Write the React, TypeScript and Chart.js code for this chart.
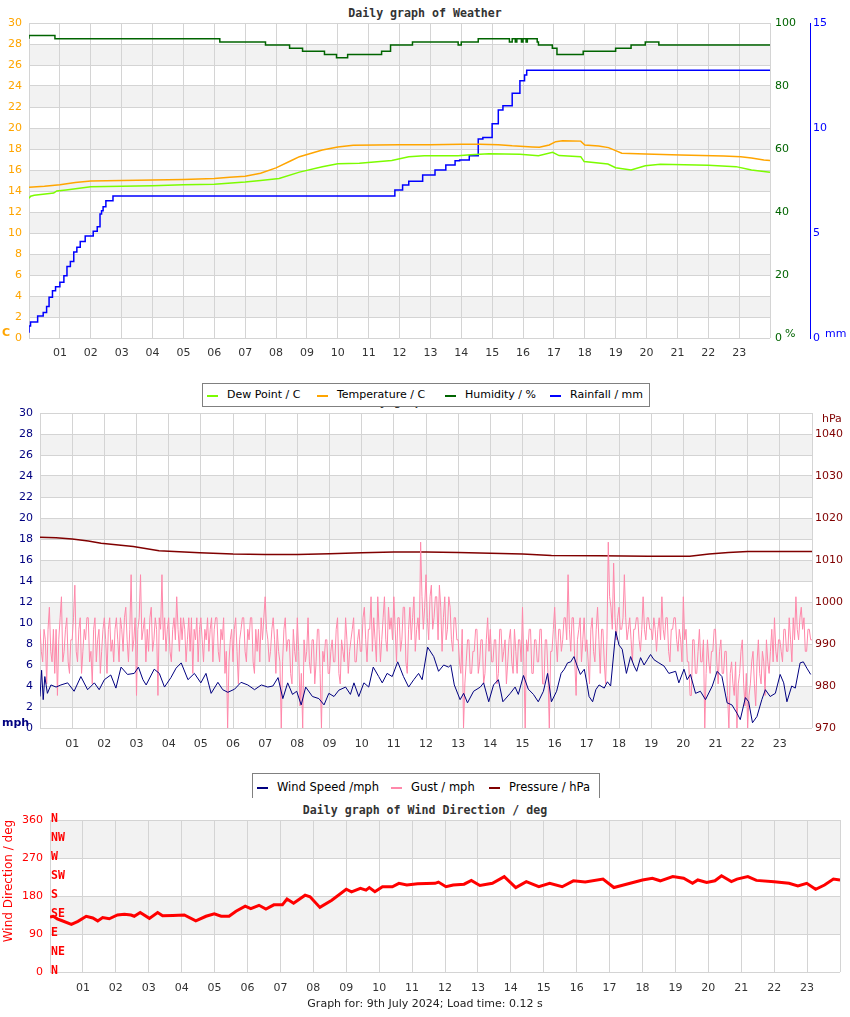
import React, { useEffect, useRef } from 'react';
import { Chart, registerables } from 'chart.js';
Chart.register(...registerables);
Chart.defaults.font.family = '"DejaVu Sans", sans-serif';

const HOUR_LABELS = ['01','02','03','04','05','06','07','08','09','10','11','12','13','14','15','16','17','18','19','20','21','22','23'];

// ---- Weather (top) ----
const tempHours = [0, 0.5, 1, 1.5, 2, 3, 4, 5, 6, 6.5, 7, 7.5, 8, 8.5, 8.76, 9.5, 10, 10.5, 12, 13, 14, 14.6, 15.2, 15.65, 16.3, 16.53, 16.85, 17.06, 17.28, 17.87, 18.0, 18.45, 18.77, 19.0, 19.2, 19.96, 21.1, 22.5, 23.05, 23.4, 23.8, 24];
const tempValues = [14.35, 14.45, 14.6, 14.8, 14.95, 15.0, 15.05, 15.1, 15.2, 15.3, 15.4, 15.7, 16.2, 16.9, 17.27, 17.9, 18.2, 18.35, 18.4, 18.4, 18.45, 18.45, 18.4, 18.3, 18.2, 18.16, 18.38, 18.7, 18.79, 18.75, 18.38, 18.29, 18.13, 17.84, 17.59, 17.52, 17.43, 17.33, 17.27, 17.14, 16.95, 16.9];

const dewHours = [0, 0.05, 0.17, 0.8, 0.9, 1.2, 2, 3, 4, 5, 6, 7, 7.5, 8.1, 8.76, 9.5, 10, 10.7, 11.75, 12.3, 12.8, 13.9, 14.3, 14.9, 15.9, 16.5, 16.96, 17.17, 17.87, 17.98, 18.75, 19.0, 19.5, 19.96, 20.45, 22.0, 22.9, 23.4, 24];
const dewValues = [13.3, 13.5, 13.6, 13.8, 14.0, 14.1, 14.4, 14.45, 14.5, 14.6, 14.65, 14.85, 15.0, 15.2, 15.8, 16.3, 16.6, 16.65, 16.9, 17.27, 17.36, 17.36, 17.45, 17.55, 17.5, 17.35, 17.68, 17.37, 17.27, 16.8, 16.57, 16.22, 16.0, 16.41, 16.54, 16.45, 16.32, 16.0, 15.78];

const humHours = [0, 0.84, 6.18, 7.66, 8.44, 8.86, 9.57, 9.96, 10.32, 11.42, 11.71, 12.42, 13.9, 14.0, 14.55, 15.56, 15.65, 15.75, 15.8, 15.95, 16.0, 16.1, 16.14, 16.46, 16.5, 16.95, 17.1, 17.95, 19.0, 19.5, 19.96, 20.4, 23.4, 24];
const humValues = [95, 96, 95, 94, 93, 92, 91, 90, 89, 90, 91, 93, 94, 93, 94, 95, 94, 95, 94, 95, 94, 95, 94, 95, 94, 93, 92, 90, 91, 92, 93, 94, 93, 93];

const rainHours = [0, 0.05, 0.28, 0.46, 0.57, 0.65, 0.76, 0.86, 1.0, 1.13, 1.23, 1.34, 1.45, 1.55, 1.66, 1.82, 2.08, 2.21, 2.3, 2.35, 2.4, 2.49, 2.72, 11.85, 12.1, 12.3, 12.75, 13.15, 13.5, 13.8, 13.95, 14.26, 14.55, 14.7, 15.0, 15.2, 15.35, 15.65, 15.9, 16.05, 16.12, 16.27, 24];
const rainValues = [0.25, 0.57, 0.76, 1.05, 1.22, 1.5, 1.94, 2.25, 2.44, 2.65, 2.97, 3.4, 3.64, 4.1, 4.32, 4.6, 4.86, 5.08, 5.3, 5.9, 6.06, 6.25, 6.54, 6.76, 7.05, 7.29, 7.46, 7.76, 8.0, 8.24, 8.44, 8.48, 8.68, 9.48, 9.55, 10.2, 10.86, 11.06, 11.65, 12.25, 12.52, 12.75, 12.75];

// ---- Wind / pressure (middle) ----
const windHours = [0.0, 0.05, 0.1, 0.15, 0.23, 0.34, 0.5, 0.65, 0.86, 1.06, 1.27, 1.48, 1.69, 1.84, 2.0, 2.2, 2.36, 2.52, 2.72, 2.93, 3.06, 3.2, 3.3, 3.55, 3.71, 3.87, 4.07, 4.23, 4.39, 4.6, 4.8, 5.0, 5.16, 5.32, 5.53, 5.68, 5.84, 6.05, 6.25, 6.46, 6.67, 6.88, 7.08, 7.24, 7.4, 7.55, 7.7, 7.85, 7.98, 8.12, 8.26, 8.47, 8.67, 8.83, 8.98, 9.14, 9.29, 9.5, 9.65, 9.76, 9.91, 10.07, 10.22, 10.36, 10.53, 10.64, 10.79, 10.95, 11.12, 11.3, 11.46, 11.62, 11.77, 11.88, 12.05, 12.24, 12.39, 12.55, 12.7, 12.77, 12.88, 13.06, 13.17, 13.29, 13.48, 13.69, 13.79, 13.95, 14.1, 14.25, 14.39, 14.62, 14.77, 14.87, 15.03, 15.18, 15.34, 15.49, 15.65, 15.78, 15.9, 16.06, 16.2, 16.3, 16.4, 16.5, 16.6, 16.7, 16.8, 16.92, 17.0, 17.07, 17.18, 17.28, 17.38, 17.54, 17.64, 17.74, 17.9, 18.0, 18.1, 18.23, 18.36, 18.47, 18.55, 18.67, 18.78, 18.88, 18.98, 19.09, 19.24, 19.4, 19.55, 19.76, 19.86, 20.02, 20.12, 20.22, 20.38, 20.53, 20.69, 20.9, 21.05, 21.2, 21.36, 21.51, 21.67, 21.77, 21.93, 22.03, 22.15, 22.29, 22.44, 22.55, 22.7, 22.86, 23.01, 23.12, 23.22, 23.37, 23.48, 23.63, 23.73, 23.84, 23.96];
const windValues = [3.0, 5.5, 2.7, 4.9, 3.3, 4.1, 3.9, 4.1, 4.3, 3.5, 4.9, 3.65, 4.3, 3.65, 4.6, 5.05, 3.8, 5.8, 5.1, 5.2, 5.8, 4.6, 4.1, 5.6, 5.2, 3.9, 4.8, 5.7, 6.2, 4.6, 5.2, 4.3, 5.2, 3.3, 4.35, 3.65, 3.4, 3.7, 4.35, 4.1, 3.65, 4.1, 3.9, 4.0, 4.8, 2.8, 4.3, 3.2, 3.5, 2.2, 3.9, 3.0, 2.8, 2.2, 3.3, 3.0, 3.6, 3.9, 3.2, 4.3, 3.0, 4.3, 3.9, 5.8, 4.9, 4.3, 5.2, 4.9, 6.3, 4.9, 3.9, 4.6, 5.2, 4.6, 7.7, 6.8, 5.4, 6.0, 5.8, 6.0, 4.1, 2.7, 3.3, 2.4, 3.5, 3.9, 4.3, 2.5, 4.1, 4.6, 2.5, 3.3, 3.9, 3.2, 5.0, 3.7, 3.2, 2.5, 3.5, 5.2, 2.5, 3.5, 5.2, 5.6, 6.2, 6.3, 6.8, 5.9, 5.1, 5.6, 4.3, 3.0, 2.5, 3.65, 4.1, 3.8, 4.4, 4.0, 9.2, 7.9, 7.5, 5.2, 6.8, 5.9, 5.4, 6.7, 6.0, 6.5, 7.0, 6.5, 6.2, 5.9, 5.2, 5.4, 4.3, 5.6, 4.6, 5.1, 3.3, 3.5, 2.7, 4.0, 5.4, 4.9, 2.4, 2.2, 1.4, 0.8, 2.9, 2.5, 0.5, 1.1, 2.7, 3.65, 3.0, 3.3, 5.1, 4.3, 2.5, 4.0, 3.8, 6.2, 6.3, 5.7, 5.1];

// gusts, one reading every 2.5 minutes from 00:00 to 24:00 (24 per hour)
const gustValues = [
  9.4, 7.3, 6.3, 9.4, 8.4, 4.2, 9.4, 11.5, 7.3, 6.3, 9.4, 5.2, 9.4, 3.1, 8.4, 10.5, 12.5, 6.3, 7.3, 9.4, 10.5, 6.3, 5.2, 8.4,
  8.4, 10.5, 13.6, 7.3, 6.3, 9.4, 10.5, 5.2, 7.3, 9.4, 8.4, 10.5, 10.5, 6.3, 7.3, 4.2, 9.4, 10.5, 6.3, 8.4, 9.4, 5.2, 7.3, 9.4,
  10.5, 8.4, 5.2, 9.4, 10.5, 7.3, 8.4, 6.3, 9.4, 10.5, 8.4, 6.3, 10.5, 9.4, 7.3, 10.5, 11.5, 8.4, 6.3, 9.4, 14.6, 7.3, 8.4, 10.5,
  3.1, 9.4, 10.5, 14.6, 8.4, 9.4, 10.5, 6.3, 9.4, 7.3, 10.5, 11.5, 7.3, 8.4, 10.5, 9.4, 3.1, 10.5, 9.4, 14.6, 8.4, 10.5, 7.3, 9.4,
  10.5, 7.3, 6.3, 9.4, 10.5, 8.4, 12.5, 9.4, 7.3, 10.5, 8.4, 10.5, 9.4, 6.3, 8.4, 10.5, 7.3, 10.5, 5.2, 9.4, 8.4, 10.5, 6.3, 9.4,
  10.5, 8.4, 6.3, 9.4, 8.4, 10.5, 7.3, 9.4, 10.5, 6.3, 9.4, 10.5, 10.5, 7.3, 6.3, 9.4, 8.4, 10.5, 5.2, 7.3, 0, 6.3, 8.4, 9.4,
  6.3, 9.4, 10.5, 7.3, 4.2, 8.4, 9.4, 10.5, 10.5, 7.3, 6.3, 9.4, 8.4, 10.5, 10.5, 6.3, 5.2, 9.4, 7.3, 9.4, 6.3, 10.5, 8.4, 10.5,
  12.5, 9.4, 8.4, 6.3, 7.3, 9.4, 10.5, 8.4, 5.2, 9.4, 7.3, 6.3, 0, 6.3, 9.4, 10.5, 7.3, 8.4, 8.4, 5.2, 4.2, 9.4, 7.3, 6.3,
  10.5, 7.3, 2.1, 5.2, 0, 8.4, 6.3, 7.3, 10.5, 6.3, 5.2, 8.4, 8.4, 4.2, 6.3, 9.4, 9.4, 5.2, 0, 7.3, 6.3, 8.4, 8.4, 5.2,
  5.2, 7.3, 8.4, 6.3, 6.3, 9.4, 10.5, 5.2, 4.2, 8.4, 7.3, 6.3, 10.5, 8.4, 5.2, 7.3, 8.4, 9.4, 10.5, 6.3, 6.3, 8.4, 9.4, 7.3,
  7.3, 10.5, 11.5, 8.4, 6.3, 9.4, 9.4, 12.5, 7.3, 10.5, 8.4, 6.3, 12.5, 9.4, 6.3, 8.4, 10.5, 12.5, 8.4, 7.3, 11.5, 9.4, 10.5, 8.4,
  12.5, 9.4, 6.3, 10.5, 10.5, 7.3, 8.4, 11.5, 11.5, 6.3, 5.2, 9.4, 11.5, 8.4, 10.5, 12.5, 7.3, 9.4, 10.5, 8.4, 17.7, 12.5, 9.4, 11.5,
  14.6, 10.5, 8.4, 12.5, 13.6, 9.4, 10.5, 12.5, 12.5, 8.4, 13.6, 11.5, 7.3, 10.5, 12.5, 8.4, 9.4, 12.5, 11.5, 8.4, 7.3, 10.5, 10.5, 8.4,
  8.4, 6.3, 5.2, 9.4, 0, 4.2, 6.3, 8.4, 8.4, 5.2, 5.2, 7.3, 7.3, 9.4, 9.4, 5.2, 6.3, 8.4, 8.4, 4.2, 5.2, 8.4, 10.5, 7.3,
  9.4, 6.3, 6.3, 8.4, 8.4, 4.2, 5.2, 9.4, 9.4, 6.3, 7.3, 8.4, 4.2, 6.3, 8.4, 9.4, 6.3, 5.2, 9.4, 7.3, 5.2, 8.4, 8.4, 6.3,
  11.5, 6.3, 0, 8.4, 7.3, 9.4, 9.4, 5.2, 5.2, 8.4, 8.4, 6.3, 6.3, 9.4, 9.4, 4.2, 4.2, 8.4, 8.4, 5.2, 0, 7.3, 7.3, 9.4,
  11.5, 8.4, 6.3, 9.4, 9.4, 7.3, 8.4, 10.5, 10.5, 8.4, 14.6, 9.4, 7.3, 10.5, 10.5, 6.3, 3.1, 8.4, 9.4, 10.5, 6.3, 8.4, 10.5, 7.3,
  8.4, 6.3, 4.2, 9.4, 10.5, 7.3, 6.3, 9.4, 11.5, 8.4, 5.2, 9.4, 9.4, 6.3, 4.2, 8.4, 17.7, 12.5, 11.5, 9.4, 15.7, 10.5, 8.4, 10.5,
  11.5, 9.4, 9.4, 10.5, 14.6, 10.5, 8.4, 9.4, 10.5, 8.4, 6.3, 9.4, 9.4, 10.5, 10.5, 8.4, 7.3, 9.4, 12.5, 9.4, 8.4, 10.5, 10.5, 9.4,
  9.4, 8.4, 10.5, 9.4, 7.3, 9.4, 10.5, 8.4, 12.5, 9.4, 8.4, 10.5, 10.5, 7.3, 6.3, 9.4, 9.4, 10.5, 10.5, 8.4, 7.3, 9.4, 8.4, 6.3,
  12.5, 8.4, 9.4, 6.3, 6.3, 3.1, 3.1, 8.4, 8.4, 5.2, 5.2, 7.3, 9.4, 6.3, 6.3, 8.4, 0, 5.2, 8.4, 6.3, 5.2, 7.3, 7.3, 9.4,
  9.4, 6.3, 4.2, 7.3, 8.4, 5.2, 5.2, 7.3, 7.3, 3.1, 0, 5.2, 6.3, 4.2, 3.1, 6.3, 0, 4.2, 5.2, 7.3, 8.4, 4.2, 2.1, 5.2,
  0, 3.1, 4.2, 6.3, 7.3, 4.2, 2.1, 6.3, 8.4, 5.2, 4.2, 7.3, 6.3, 3.1, 8.4, 6.3, 5.2, 7.3, 9.4, 6.3, 10.5, 7.3, 6.3, 8.4,
  8.4, 7.3, 6.3, 9.4, 9.4, 7.3, 7.3, 10.5, 8.4, 6.3, 10.5, 8.4, 12.5, 9.4, 8.4, 10.5, 11.5, 9.4, 10.5, 7.3, 7.3, 9.4, 9.4, 8.4,
  8.4,
];
const GUST_PER_HOUR = 24;

const pressHours = [0, 0.5, 1, 1.5, 1.9, 2.9, 3.7, 4.96, 6, 7, 8, 9, 10, 11, 12, 13, 14, 15, 15.9, 17.4, 18.9, 20.2, 20.8, 21.4, 22, 24];
const pressValues = [1015.4, 1015.3, 1015.0, 1014.5, 1014.0, 1013.2, 1012.2, 1011.7, 1011.4, 1011.3, 1011.3, 1011.5, 1011.7, 1011.9, 1011.9, 1011.8, 1011.6, 1011.4, 1011.1, 1011.0, 1010.9, 1010.9, 1011.4, 1011.8, 1012.0, 1012.0];

// ---- Wind direction (bottom) ----
const dirHours = [0.0, 0.1, 0.22, 0.35, 0.65, 0.85, 1.1, 1.3, 1.45, 1.6, 1.8, 2.05, 2.26, 2.46, 2.56, 2.74, 3.02, 3.27, 3.42, 3.73, 4.08, 4.43, 4.74, 4.99, 5.2, 5.44, 5.65, 5.93, 6.1, 6.35, 6.56, 6.8, 7.06, 7.2, 7.4, 7.75, 7.9, 8.2, 8.56, 9.0, 9.16, 9.43, 9.6, 9.7, 9.87, 10.1, 10.4, 10.6, 10.84, 11.17, 11.7, 11.8, 12.03, 12.25, 12.58, 12.8, 13.06, 13.44, 13.8, 14.15, 14.47, 14.85, 15.18, 15.56, 15.9, 16.26, 16.8, 17.13, 17.51, 18.0, 18.3, 18.54, 18.92, 19.25, 19.52, 19.68, 19.95, 20.2, 20.4, 20.7, 20.87, 21.2, 21.46, 22.0, 22.45, 22.72, 22.99, 23.26, 23.53, 23.8, 24];
const dirValues = [130, 132, 126, 122, 113, 120, 132, 128, 121, 129, 126, 135, 137, 135, 132, 141, 127, 141, 133, 134, 135, 121, 132, 138, 132, 132, 144, 156, 150, 158, 149, 159, 159, 173, 163, 182, 178, 153, 170, 196, 190, 198, 194, 200, 190, 202, 202, 210, 206, 209, 210, 213, 202, 206, 208, 217, 205, 210, 226, 200, 214, 202, 210, 202, 216, 213, 220, 200, 208, 218, 222, 216, 226, 222, 210, 218, 212, 216, 228, 214, 220, 226, 217, 214, 210, 204, 210, 196, 206, 220, 218];

const compassNames = ['N', 'NW', 'W', 'SW', 'S', 'SE', 'E', 'NE', 'N'];
const compassDegrees = [360, 315, 270, 225, 180, 135, 90, 45, 0];

const GRID = '#d4d4d4';
const BAND = '#f2f2f2';

const pts = (hs: number[], vs: number[]) => hs.map((h, i) => ({ x: h, y: vs[i] }));

const hourTick = (v: any) => {
  const n = Number(v);
  return Number.isInteger(n) && n >= 1 && n <= 23 ? HOUR_LABELS[n - 1] : '';
};

const bandsPlugin = {
  id: 'bands',
  beforeDraw(chart: any, _a: any, opts: any) {
    const s = chart.scales[opts.axis];
    if (!s) return;
    const { left, right } = chart.chartArea;
    const ctx = chart.ctx;
    ctx.save();
    ctx.fillStyle = opts.color;
    const t = s.ticks;
    for (let i = 0; i < t.length - 1; i++) {
      if (i % 2 === 1) {
        const y1 = s.getPixelForValue(t[i].value);
        const y2 = s.getPixelForValue(t[i + 1].value);
        ctx.fillRect(left, y2, right - left, y1 - y2);
      }
    }
    ctx.restore();
  },
};

const textPlugin = {
  id: 'extraText',
  afterDraw(chart: any, _a: any, opts: any) {
    const ctx = chart.ctx;
    for (const it of opts.items || []) {
      ctx.save();
      ctx.font = it.font;
      ctx.fillStyle = it.color;
      ctx.textAlign = it.align || 'left';
      ctx.textBaseline = 'middle';
      if (it.rotate) {
        ctx.translate(it.x, it.y);
        ctx.rotate(it.rotate);
        ctx.fillText(it.text, 0, 0);
      } else {
        ctx.fillText(it.text, it.x, it.y);
      }
      ctx.restore();
    }
  },
};

const compassPlugin = {
  id: 'compass',
  afterDatasetsDraw(chart: any) {
    const s = chart.scales.yD;
    const ctx = chart.ctx;
    ctx.save();
    ctx.font = 'bold 11.5px "DejaVu Sans Mono", monospace';
    ctx.fillStyle = '#ff0000';
    ctx.textAlign = 'left';
    ctx.textBaseline = 'middle';
    compassNames.forEach((n, i) => {
      ctx.fillText(n, chart.chartArea.left + 1, s.getPixelForValue(compassDegrees[i]) - 1);
    });
    ctx.restore();
  },
};

const xAxis = (height: number, pad: number) => ({
  type: 'linear',
  min: 0,
  max: 24,
  ticks: { stepSize: 1, autoSkip: false, maxRotation: 0, padding: pad, color: '#333', font: { size: 11 }, callback: hourTick },
  grid: { color: GRID, drawTicks: false },
  border: { display: false },
  afterFit: (s: any) => { s.height = height; },
});

const baseOpts = {
  responsive: false,
  animation: false,
  events: [],
  elements: { point: { radius: 0 } },
};

function weatherConfig(): any {
  return {
    type: 'line',
    data: {
      datasets: [
        { label: 'Dew Point / C', data: pts(dewHours, dewValues), borderColor: '#7cfc00', borderWidth: 1.5, yAxisID: 'yT' },
        { label: 'Temperature / C', data: pts(tempHours, tempValues), borderColor: '#ffa500', borderWidth: 1.5, yAxisID: 'yT' },
        { label: 'Humidity / %', data: pts(humHours, humValues), borderColor: '#006400', borderWidth: 1.5, stepped: 'after', yAxisID: 'yH' },
        { label: 'Rainfall / mm', data: pts(rainHours, rainValues), borderColor: '#0000ff', borderWidth: 1.5, stepped: 'after', yAxisID: 'yR' },
      ],
    },
    options: {
      ...baseOpts,
      layout: { padding: { top: 23, left: 0, right: 0, bottom: 0 } },
      plugins: {
        legend: { display: false },
        tooltip: { enabled: false },
        bands: { axis: 'yT', color: BAND },
        extraText: {
          items: [
            { text: 'C', x: 2, y: 333, color: '#ffa500', font: 'bold 11px "DejaVu Sans"' },
            { text: '%', x: 785, y: 334, color: '#006400', font: '11px "DejaVu Sans"' },
            { text: 'mm', x: 825, y: 334, color: '#0000ff', font: '11px "DejaVu Sans"' },
          ],
        },
      },
      scales: {
        x: xAxis(27, 9),
        yT: {
          position: 'left', min: 0, max: 30,
          ticks: { stepSize: 2, color: '#ffa500', padding: 7, font: { size: 11 } },
          grid: { color: GRID, drawTicks: false }, border: { display: false },
          afterFit: (s: any) => { s.width = 29; },
        },
        yH: {
          position: 'right', min: 0, max: 100,
          ticks: { stepSize: 20, color: '#006400', padding: 5, font: { size: 11 } },
          grid: { display: false, drawTicks: false }, border: { display: false },
          afterFit: (s: any) => { s.width = 40; },
        },
        yR: {
          position: 'right', min: 0, max: 15,
          ticks: { stepSize: 5, color: '#0000ff', padding: 3, font: { size: 11 } },
          grid: { display: false, drawTicks: false }, border: { display: true, color: '#0000ff', width: 1 },
          afterFit: (s: any) => { s.width = 40; },
        },
      },
    },
    plugins: [bandsPlugin, textPlugin],
  };
}

function windConfig(): any {
  return {
    type: 'line',
    data: {
      datasets: [
        { label: 'Wind Speed /mph', data: pts(windHours, windValues), borderColor: '#000080', borderWidth: 1, yAxisID: 'yW' },
        { label: 'Gust / mph', data: gustValues.map((g, i) => ({ x: i / GUST_PER_HOUR, y: g })), borderColor: '#ff88aa', borderWidth: 1, yAxisID: 'yW' },
        { label: 'Pressure / hPa', data: pts(pressHours, pressValues), borderColor: '#800000', borderWidth: 1.5, yAxisID: 'yP' },
      ],
    },
    options: {
      ...baseOpts,
      layout: { padding: { top: 23, left: 0, right: 0, bottom: 0 } },
      plugins: {
        legend: { display: false },
        tooltip: { enabled: false },
        bands: { axis: 'yW', color: BAND },
        extraText: {
          items: [
            { text: 'mph', x: 2, y: 333, color: '#000080', font: 'bold 11px "DejaVu Sans"' },
            { text: 'hPa', x: 822, y: 29, color: '#800000', font: '11px "DejaVu Sans"' },
          ],
        },
      },
      scales: {
        x: xAxis(32, 10),
        yW: {
          position: 'left', min: 0, max: 30,
          ticks: { stepSize: 2, color: '#000080', padding: 7, font: { size: 11 } },
          grid: { color: GRID, drawTicks: false }, border: { display: false },
          afterFit: (s: any) => { s.width = 40; },
        },
        yP: {
          position: 'right', min: 970, max: 1045,
          ticks: { stepSize: 10, includeBounds: false, color: '#800000', padding: 3, font: { size: 11 },
            callback: (v: any) => (Number(v) % 10 === 0 && Number(v) <= 1040 ? String(v) : '') },
          grid: { display: false, drawTicks: false }, border: { display: false },
          afterFit: (s: any) => { s.width = 38; },
        },
      },
    },
    plugins: [bandsPlugin, textPlugin],
  };
}

function directionConfig(): any {
  return {
    type: 'line',
    data: {
      datasets: [
        { label: 'Wind Direction / deg', data: pts(dirHours, dirValues), borderColor: '#ff0000', borderWidth: 3, yAxisID: 'yD' },
      ],
    },
    options: {
      ...baseOpts,
      layout: { padding: { top: 20, left: 0, right: 10, bottom: 0 } },
      plugins: {
        legend: { display: false },
        tooltip: { enabled: false },
        bands: { axis: 'yD', color: BAND },
        extraText: {
          items: [
            { text: 'Wind Direction / deg', x: 9, y: 81, color: '#ff0000', font: '12px "DejaVu Sans"', align: 'center', rotate: -Math.PI / 2 },
          ],
        },
      },
      scales: {
        x: xAxis(28, 10),
        yD: {
          position: 'left', min: 0, max: 360,
          ticks: { stepSize: 90, color: '#ff0000', padding: 7, font: { size: 11 } },
          grid: { color: GRID, drawTicks: false }, border: { display: false },
          afterFit: (s: any) => { s.width = 50; },
        },
      },
    },
    plugins: [bandsPlugin, textPlugin, compassPlugin],
  };
}

const TITLE_FONT = 'bold 11.6px "DejaVu Sans Mono", monospace';

function LegendItem({ left, color, text, textLeft, top }: { left: number; color: string; text: string; textLeft: number; top: number }) {
  return (
    <>
      <div style={{ position: 'absolute', left, top, width: 11, height: 2, background: color }} />
      <span style={{ position: 'absolute', left: textLeft, top: top - 7, lineHeight: '14px', whiteSpace: 'nowrap' }}>{text}</span>
    </>
  );
}

export default function App() {
  const r1 = useRef<HTMLCanvasElement>(null);
  const r2 = useRef<HTMLCanvasElement>(null);
  const r3 = useRef<HTMLCanvasElement>(null);

  useEffect(() => {
    const c1 = new Chart(r1.current as HTMLCanvasElement, weatherConfig());
    const c2 = new Chart(r2.current as HTMLCanvasElement, windConfig());
    const c3 = new Chart(r3.current as HTMLCanvasElement, directionConfig());
    return () => { c1.destroy(); c2.destroy(); c3.destroy(); };
  }, []);

  const titleStyle: React.CSSProperties = {
    position: 'absolute', left: 0, width: 850, textAlign: 'center', font: TITLE_FONT, color: '#333', lineHeight: '14px', whiteSpace: 'pre',
  };

  return (
    <div style={{ position: 'absolute', left: 0, top: 0, width: 850, height: 1017, background: '#fff', fontFamily: '"DejaVu Sans", sans-serif', color: '#000', overflow: 'hidden' }}>
      <div style={{ ...titleStyle, top: 6 }}>Daily graph of Weather</div>
      <canvas ref={r1} width={850} height={365} style={{ position: 'absolute', left: 0, top: 0 }} />

      <div style={{ ...titleStyle, left: 352, width: 'auto', textAlign: 'left', top: 394 }}>Daily graph of Wind</div>
      <canvas ref={r2} width={850} height={370} style={{ position: 'absolute', left: 0, top: 390 }} />

      <div style={{ position: 'absolute', left: 202, top: 383, width: 448, height: 24, boxSizing: 'border-box', border: '1px solid #808080', background: '#fff', fontSize: 11 }}>
        <LegendItem left={4} top={11} color="#7cfc00" text="Dew Point / C" textLeft={24} />
        <LegendItem left={114} top={11} color="#ffa500" text="Temperature / C" textLeft={134} />
        <LegendItem left={242} top={11} color="#006400" text="Humidity / %" textLeft={262} />
        <LegendItem left={347} top={11} color="#0000ff" text="Rainfall / mm" textLeft={367} />
      </div>

      <div style={{ position: 'absolute', left: 252, top: 773, width: 348, height: 25, boxSizing: 'border-box', borderTop: '1px solid #808080', borderLeft: '1px solid #808080', borderRight: '1px solid #808080', background: '#fff', fontSize: 11.5 }}>
        <LegendItem left={4} top={13} color="#000080" text="Wind Speed /mph" textLeft={24} />
        <LegendItem left={138} top={13} color="#ff88aa" text="Gust / mph" textLeft={158} />
        <LegendItem left={236} top={13} color="#800000" text="Pressure / hPa" textLeft={256} />
      </div>

      <div style={{ ...titleStyle, top: 803 }}>Daily graph of Wind Direction / deg</div>
      <canvas ref={r3} width={850} height={200} style={{ position: 'absolute', left: 0, top: 800 }} />

      <div style={{ position: 'absolute', left: 0, width: 850, top: 997, textAlign: 'center', fontSize: 11, lineHeight: '14px', color: '#222' }}>
        Graph for: 9th July 2024; Load time: 0.12 s
      </div>
    </div>
  );
}
